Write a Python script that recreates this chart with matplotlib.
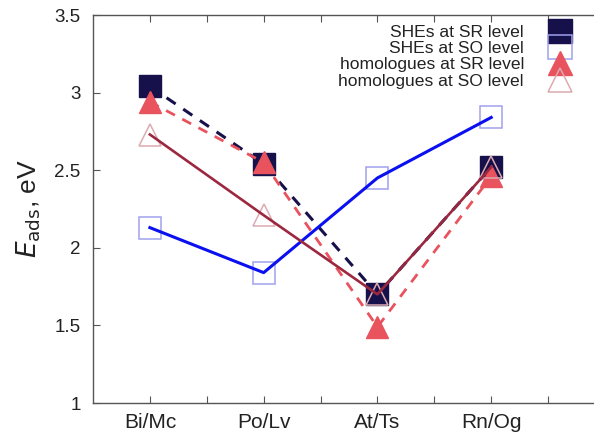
import matplotlib

matplotlib.use("Agg")
import matplotlib.pyplot as plt

# adsorption energies (eV)
CATEGORIES = ["Bi/Mc", "Po/Lv", "At/Ts", "Rn/Og"]
SHE_SR = [3.04, 2.54, 1.70, 2.52]
SHE_SO = [2.13, 1.84, 2.45, 2.84]
HOM_SR = [2.94, 2.55, 1.49, 2.46]
HOM_SO = [2.73, 2.21, 1.70, 2.52]

C_NAVY = "#16114a"
C_BLUE = "#0a10f0"
C_BLUE_PALE = "#a0a0ee"
C_RED = "#e8535e"
C_PINK = "#dcaab2"
C_MAROON = "#9c2840"
C_AX = "#555555"


def main():
    plt.rcParams.update({"font.family": ["Liberation Sans", "DejaVu Sans"]})
    fig = plt.figure(figsize=(5.94, 4.33), dpi=100)
    ax = fig.add_axes([93 / 594, 30 / 433, 512 / 594, 388 / 433])

    xs = list(range(1, len(CATEGORIES) + 1))

    # SHEs, scalar relativistic: filled navy squares + dashed line
    ax.plot(xs, SHE_SR, color=C_NAVY, lw=2.2, ls=(0, (3.6, 3.0)), zorder=3)
    ax.plot(xs, SHE_SR, ls="none", marker="s", ms=15.5, mfc=C_NAVY,
            mec=C_NAVY, zorder=4, label="SHEs at SR level")
    # SHEs, spin-orbit: open squares + solid blue
    ax.plot(xs, SHE_SO, ls="none", marker="s", ms=15.5, mfc="none",
            mec=C_BLUE_PALE, mew=1.1, zorder=4, label="SHEs at SO level")
    ax.plot(xs, SHE_SO, color=C_BLUE, lw=2.2, zorder=5)
    # homologues, SR: filled red triangles + dashed red
    ax.plot(xs, HOM_SR, color=C_RED, lw=2.0, ls=(0, (3.6, 3.0)), zorder=5)
    ax.plot(xs, HOM_SR, ls="none", marker="^", ms=15.5, mfc=C_RED,
            mec=C_RED, zorder=6, label="homologues at SR level")
    # homologues, SO: open triangles + solid maroon
    ax.plot(xs, HOM_SO, ls="none", marker="^", ms=15.5, mfc="none",
            mec=C_PINK, mew=1.1, zorder=6, label="homologues at SO level")
    ax.plot(xs, HOM_SO, color=C_MAROON, lw=1.9, zorder=7)

    ax.set_xlim(0.5, 5.0)
    ax.set_ylim(1, 3.5)
    ax.set_xticks(xs)
    ax.set_xticklabels(CATEGORIES)
    ax.set_xticks([x + 0.5 for x in xs], minor=True)
    ax.set_yticks([1, 1.5, 2, 2.5, 3, 3.5])
    ax.set_yticklabels(["1", "1.5", "2", "2.5", "3", "3.5"])

    ax.tick_params(axis="both", which="both", direction="in", length=5,
                   width=0.8, color=C_AX, labelcolor="#222222")
    ax.tick_params(axis="x", which="both", top=True, pad=7, labelsize=15)
    ax.tick_params(axis="y", pad=9, labelsize=13.5)
    for s in ax.spines.values():
        s.set_color(C_AX)
        s.set_linewidth(1.0)

    ax.set_ylabel(r"$E_{\mathrm{ads}}$, eV", fontsize=19, color="#222222")
    ax.yaxis.set_label_coords(-0.098, 0.5)

    ax.legend(loc="upper right", bbox_to_anchor=(573 / 594, 1 - 25 / 433),
              bbox_transform=fig.transFigure, frameon=False, markerfirst=False,
              fontsize=12.6, labelspacing=0.05, handlelength=1.5,
              handletextpad=1.3, borderpad=0, borderaxespad=0,
              markerscale=1.08, labelcolor="#222222")

    fig.savefig("out.png", dpi=100)


if __name__ == "__main__":
    main()
